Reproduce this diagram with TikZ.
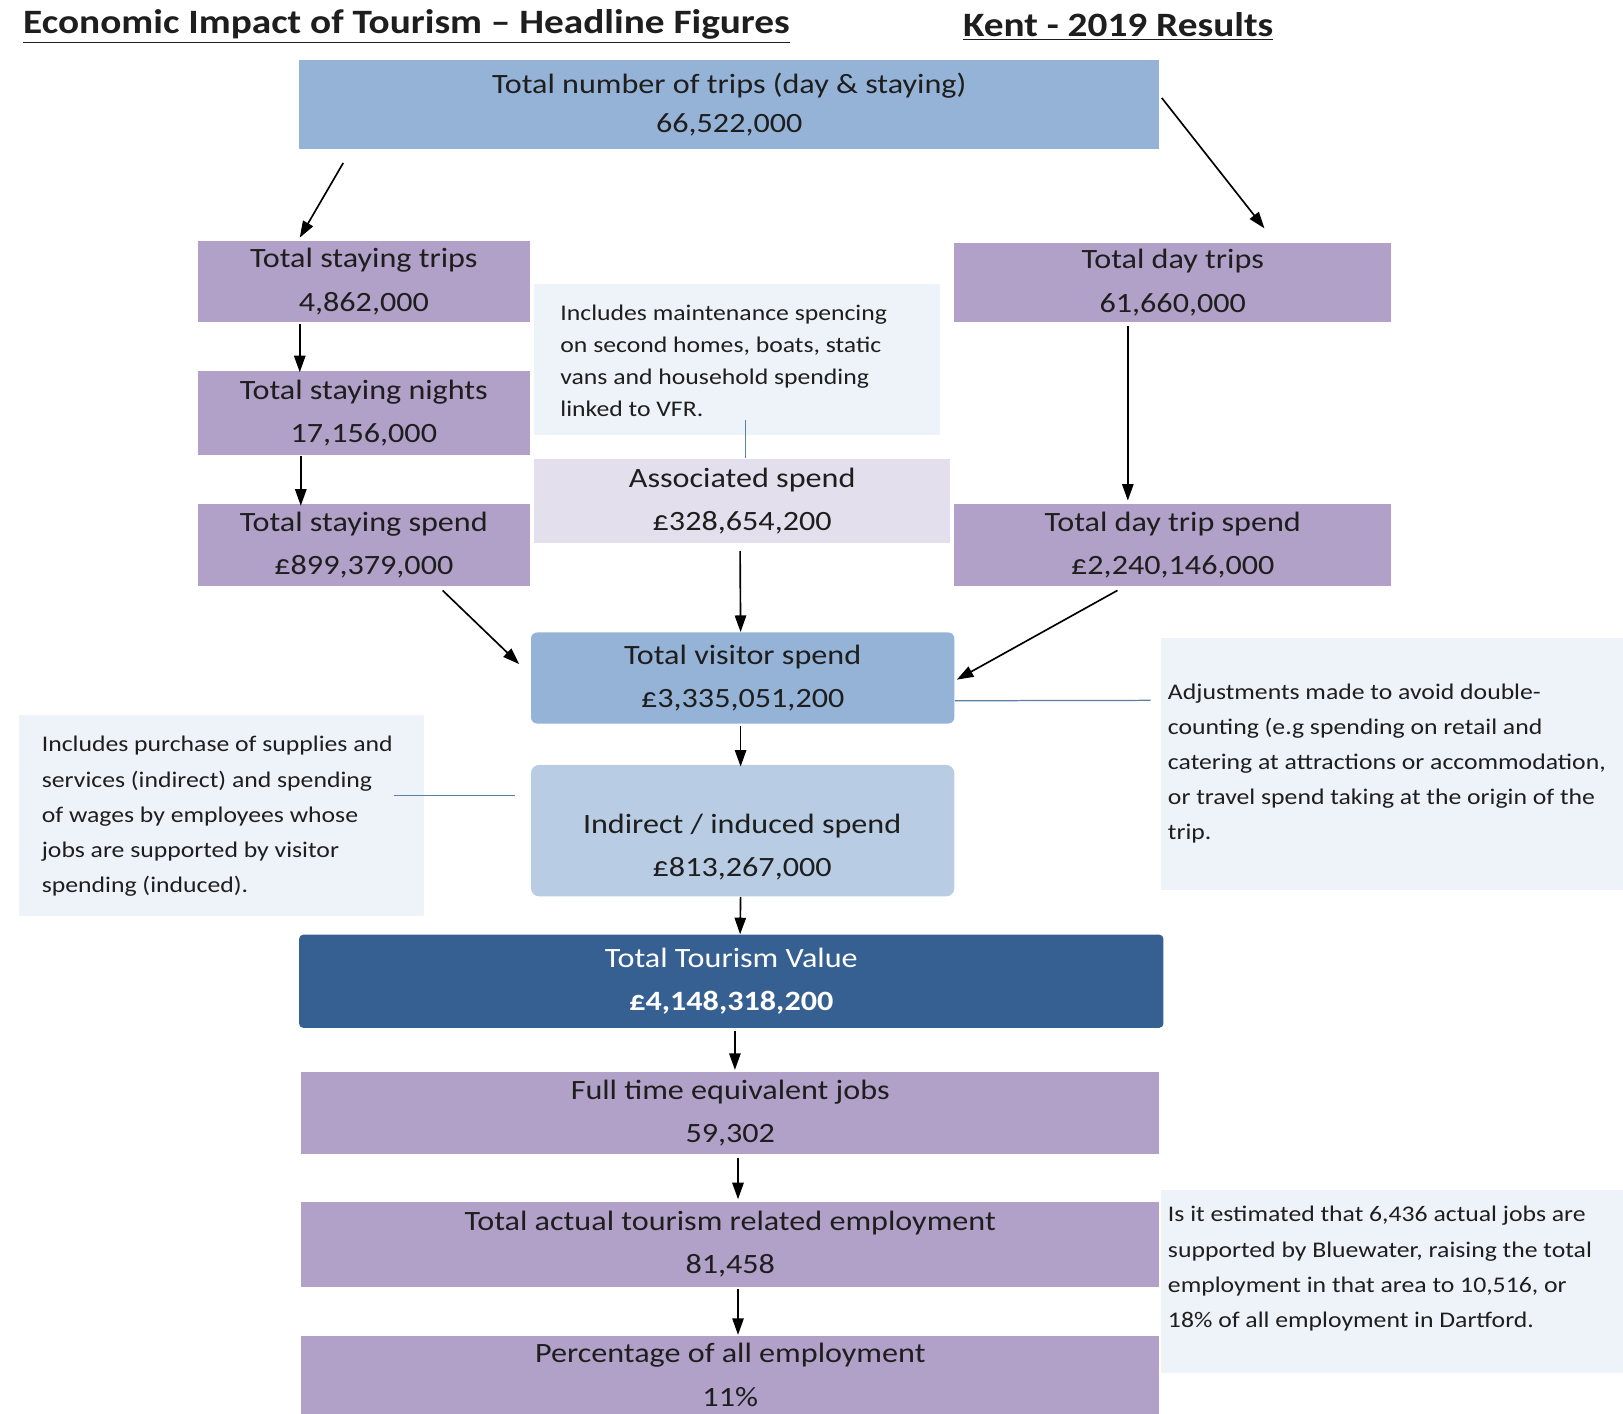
\documentclass[tikz,border=0pt]{standalone}
\usepackage{fontspec}
\setmainfont{Carlito}[FakeStretch=1.15]
\usetikzlibrary{arrows.meta,calc}
\definecolor{cblue}{HTML}{95B3D7}
\definecolor{cpurple}{HTML}{B1A0C7}
\definecolor{clav}{HTML}{E4DFEC}
\definecolor{clight}{HTML}{B8CCE4}
\definecolor{cdark}{HTML}{366092}
\definecolor{cnote}{HTML}{EEF2F9}
\definecolor{cline}{HTML}{5B7FA6}
\definecolor{ctext}{HTML}{1E1E1E}
\begin{document}
\begin{tikzpicture}[x=0.5pt,y=-0.5pt,
  boxbase/.style={inner sep=0pt, align=center, text=ctext,
    font=\fontsize{13.5}{21}\selectfont},
  purplebox/.style={boxbase, fill=cpurple},
  bluebox/.style={boxbase, fill=cblue},
  notebox/.style={fill=cnote, inner sep=0pt},
  notetext/.style={inner sep=0pt, align=left, anchor=north west, text=ctext,
    font=\fontsize{10.8}{17}\selectfont},
  arr/.style={-{Triangle[length=8pt,width=5.5pt]}, line width=0.8pt, black},
  thin/.style={draw=cline, line width=0.6pt},
  titletext/.style={inner sep=0pt, anchor=west, text=ctext,
    font=\fontsize{16.5}{19}\selectfont\bfseries}
]
\useasboundingbox (0,0) rectangle (1568,1366);
\fill[white] (0,0) rectangle (1568,1366);

% titles
\node[titletext] (t1) at (22,26) {\underline{Economic Impact of Tourism – Headline Figures}};
\node[titletext] (t2) at (930,26) {\underline{Kent - 2019 Results}};

% note boxes
\node[notebox, minimum width=196pt, minimum height=73pt] (callM) at (712,347) {};
\node[notebox, minimum width=196pt, minimum height=97pt] (callL) at (214,788) {};
\node[notebox, minimum width=223pt, minimum height=122pt] (callR1) at (1345,738) {};
\node[notebox, minimum width=223pt, minimum height=88pt] (callR2) at (1345,1238) {};

\node[notetext, font=\fontsize{10.8}{15.5}\selectfont] (callMt) at (541,294) {Includes maintenance spencing\\on second homes, boats, static\\vans and household spending\\linked to VFR.};
\node[notetext] (callLt) at (40,711) {Includes purchase of supplies and\\services (indirect) and spending\\of wages by employees whose\\jobs are supported by visitor\\spending (induced).};
\node[notetext] (callR1t) at (1128,660) {Adjustments made to avoid double-\\counting (e.g spending on retail and\\catering at attractions or accommodation,\\or travel spend taking at the origin of the\\trip.};
\node[notetext] (callR2t) at (1128,1165) {Is it estimated that 6,436 actual jobs are\\supported by Bluewater, raising the total\\employment in that area to 10,516, or\\18\% of all employment in Dartford.};

% main boxes
\node[bluebox, minimum width=415.5pt, minimum height=43pt, font=\fontsize{13.5}{18.5}\selectfont] (top) at (704.5,101) {Total number of trips (day \& staying)\\66,522,000};
\node[purplebox, minimum width=160.5pt, minimum height=39pt] (stayT) at (351.5,272) {Total staying trips\\4,862,000};
\node[purplebox, minimum width=211pt, minimum height=38pt] (dayT) at (1133,273) {Total day trips\\61,660,000};
\node[purplebox, minimum width=160.5pt, minimum height=41pt] (nights) at (351.5,399) {Total staying nights\\17,156,000};
\node[purplebox, minimum width=160.5pt, minimum height=39.5pt] (staySp) at (351.5,526.5) {Total staying spend\\£899,379,000};
\node[boxbase, fill=clav, minimum width=201pt, minimum height=41pt] (assoc) at (717,484) {Associated spend\\£328,654,200};
\node[purplebox, minimum width=211pt, minimum height=39.5pt] (daySp) at (1133,526.5) {Total day trip spend\\£2,240,146,000};
\node[bluebox, rounded corners=3pt, minimum width=204.5pt, minimum height=44pt] (visitor) at (717.5,655) {Total visitor spend\\£3,335,051,200};
\node[boxbase, fill=clight, rounded corners=4pt, minimum width=204.5pt, minimum height=63.5pt] (ind) at (717.5,802.5) {};
\node[boxbase] (indt) at (717,818.5) {Indirect / induced spend\\£813,267,000};
\node[boxbase, fill=cdark, text=white, rounded corners=2pt, minimum width=417.5pt, minimum height=45pt] (ttv) at (706.5,948) {Total Tourism Value\\\textbf{£4,148,318,200}};
\node[purplebox, minimum width=414.5pt, minimum height=39.5pt] (fte) at (705.5,1075.5) {Full time equivalent jobs\\59,302};
\node[purplebox, minimum width=414.5pt, minimum height=41pt] (emp) at (705.5,1202) {Total actual tourism related employment\\81,458};
\node[purplebox, minimum width=414.5pt, minimum height=37.5pt] (pct) at (705.5,1328.5) {Percentage of all employment\\11\%};

% thin connectors to notes
\draw[thin] ($(callM.south)+(8,-15)$) -- ($(assoc.north)+(3,0)$);
\draw[thin] ($(callL.north east)+(-30,78)$) -- ($(ind.north west)+(-15,30)$);
\draw[thin] ($(visitor.east)+(0,22)$) -- ($(callR1.north west)+(-10,61)$);

% arrows
\draw[arr] ($(top.south west)+(43,13)$) -- ($(stayT.north west)+(99,-3)$);
\draw[arr] ($(top.north east)+(2,37)$) -- ($(dayT.north west)+(300,-14)$);
\draw[arr] ($(stayT.south west)+(99,2)$) -- ($(nights.north west)+(99,2)$);
\draw[arr] ($(nights.south west)+(100,0)$) -- ($(staySp.north west)+(100,2)$);
\draw[arr] ($(dayT.south west)+(168,4)$) -- ($(daySp.north west)+(168,-3)$);
\draw[arr] ($(staySp.south west)+(237,4)$) -- ($(visitor.north west)+(-11,31)$);
\draw[arr] ($(assoc.south)+(-2,7)$) -- ($(visitor.north)+(-2,0)$);
\draw[arr] ($(daySp.south west)+(158,4)$) -- ($(visitor.north east)+(2,46)$);
\draw[arr] ($(visitor.south)+(-2,2)$) -- ($(ind.north)+(-2,2)$);
\draw[arr] ($(ind.south)+(-2,0)$) -- ($(ttv.north)+(8.5,0)$);
\draw[arr] ($(ttv.south)+(3.5,3)$) -- ($(fte.north)+(4.5,-2)$);
\draw[arr] ($(fte.south)+(7.5,3)$) -- ($(emp.north)+(7.5,-2)$);
\draw[arr] ($(emp.south)+(7.5,2)$) -- ($(pct.north)+(7.5,-1)$);
\end{tikzpicture}
\end{document}
